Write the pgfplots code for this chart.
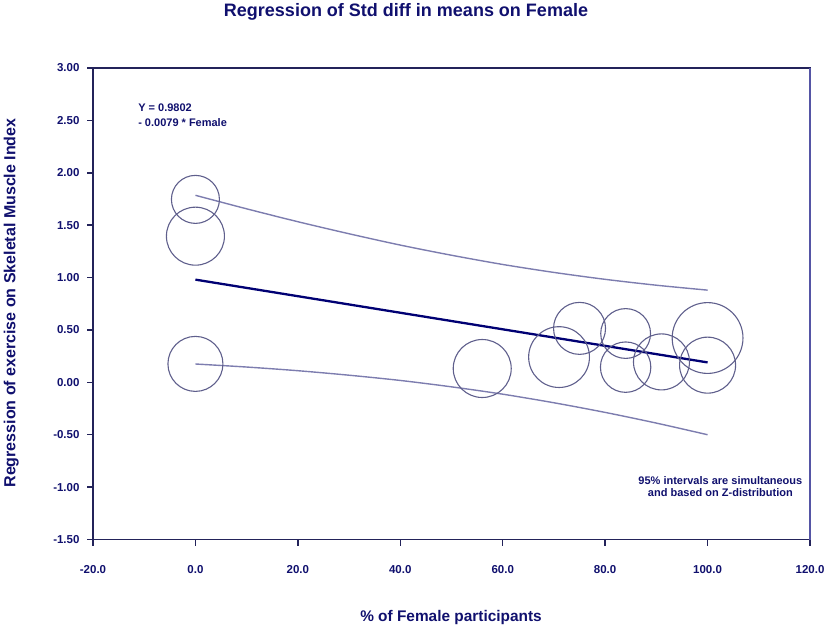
\documentclass[border=0pt]{standalone}
\usepackage{fontspec}
\setmainfont{Liberation Sans}
\usepackage{pgfplots}
\pgfplotsset{compat=1.18}
\definecolor{navytxt}{RGB}{16,16,110}
\definecolor{axisdark}{RGB}{35,35,90}
\definecolor{axisright}{RGB}{85,85,165}
\definecolor{regline}{RGB}{0,0,115}
\definecolor{bandline}{RGB}{125,125,175}
\definecolor{circ}{RGB}{95,95,140}

\pgfplotstableread{
x y r
0 1.746 24
0 1.395 29
0 0.176 27.5
56 0.132 29
71 0.241 30.4
75 0.515 26
84 0.466 24.9
84 0.145 25.2
91 0.195 28
100 0.423 35.4
100 0.164 28
}\studies

\begin{document}
\begin{tikzpicture}
\useasboundingbox (0,0) rectangle (829pt,633pt);
\begin{axis}[
  name=ax,
  at={(93pt,93.5pt)}, anchor=south west,
  scale only axis, width=717pt, height=471.5pt,
  xmin=-20, xmax=120, ymin=-1.5, ymax=3,
  xtick={-20,0,20,40,60,80,100,120},
  ytick={-1.5,-1,-0.5,0,0.5,1,1.5,2,2.5,3},
  /pgf/number format/assume math mode=true,
  xticklabel={\pgfmathprintnumber[fixed,fixed zerofill,precision=1]{\tick}},
  yticklabel={\pgfmathprintnumber[fixed,fixed zerofill,precision=2]{\tick}},
  tick align=outside, xtick pos=left, ytick pos=left,
  major tick length=6pt,
  tick style={axisdark, line width=1.5pt},
  axis line style={axisdark, line width=1.8pt},
  ticklabel style={font=\fontsize{11.5}{13}\selectfont\bfseries, text=navytxt},
  xticklabel shift=16pt,
  yticklabel shift=4pt,
  xlabel={\% of Female participants},
  xlabel style={at={(0.4993,-0.174)}, anchor=base, inner sep=0pt,
    font=\fontsize{15.4}{18}\selectfont\bfseries, text=navytxt},
  ylabel={Regression of exercise on Skeletal Muscle Index},
  ylabel style={at={(-0.1081,0.5016)}, anchor=base, inner sep=0pt,
    font=\fontsize{16}{19}\selectfont\bfseries, text=navytxt},
  clip=false,
]
% upper 95% band
\addplot[bandline, line width=1.4pt, smooth] coordinates {
(0,1.785) (10,1.656) (20,1.533) (30,1.418) (40,1.310) (50,1.213)
(60,1.125) (70,1.049) (80,0.983) (90,0.927) (100,0.880)};
% lower 95% band
\addplot[bandline, line width=1.4pt, smooth] coordinates {
(0,0.175) (10,0.146) (20,0.111) (30,0.068) (40,0.018) (50,-0.043)
(60,-0.113) (70,-0.195) (80,-0.287) (90,-0.389) (100,-0.500)};
% regression line
\addplot[regline, line width=2.3pt] coordinates {(0,0.9802) (100,0.1902)};
% studies
\addplot[scatter, only marks, mark=o,
  scatter/use mapped color={draw=circ, fill=none},
  mark options={line width=1.1pt},
  visualization depends on={\thisrow{r} \as \rad},
  scatter/@pre marker code/.append style={/tikz/mark size=\rad}]
  table[x=x, y=y] {\studies};
\node[anchor=base west, inner sep=0pt, font=\fontsize{11}{13}\selectfont\bfseries, text=navytxt]
  at (axis cs:-11.2,2.583) {Y = 0.9802};
\node[anchor=base west, inner sep=0pt, font=\fontsize{11}{13}\selectfont\bfseries, text=navytxt]
  at (axis cs:-11.2,2.446) {- 0.0079 * Female};
\node[anchor=base, inner sep=0pt, font=\fontsize{11}{13}\selectfont\bfseries, text=navytxt]
  at (axis cs:102.5,-0.973) {95\% intervals are simultaneous};
\node[anchor=base, inner sep=0pt, font=\fontsize{11}{13}\selectfont\bfseries, text=navytxt]
  at (axis cs:102.5,-1.093) {and based on Z-distribution};
\end{axis}
\draw[axisdark, line width=1.8pt] (ax.north west) -- (ax.north east);
\draw[axisright, line width=2pt] (ax.south east) -- (ax.north east);
\node[anchor=base, inner sep=0pt, font=\fontsize{18}{21}\selectfont\bfseries, text=navytxt]
  at (406pt,616pt) {Regression of Std diff in means on Female};
\end{tikzpicture}
\end{document}
